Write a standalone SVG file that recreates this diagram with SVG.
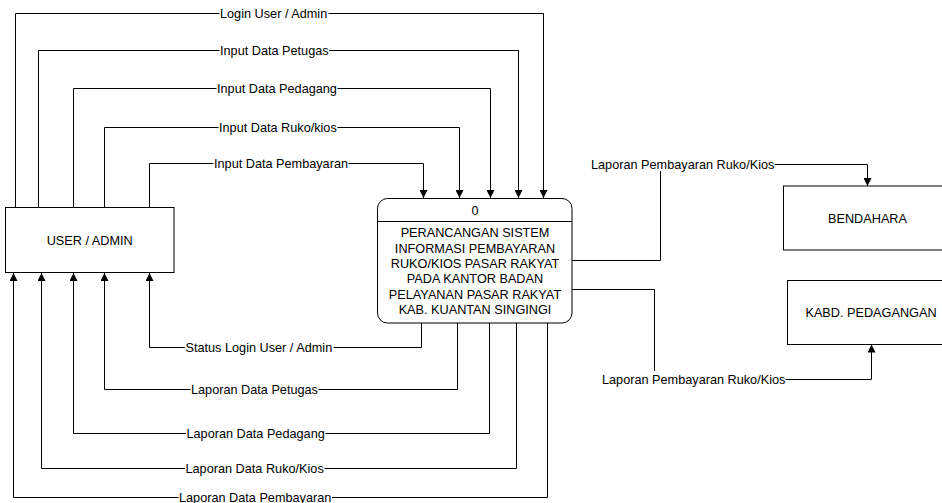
<svg xmlns="http://www.w3.org/2000/svg" width="942" height="503" viewBox="0 0 942 503">
<style>
text{font-family:"Liberation Sans",Arial,sans-serif;font-size:12.7px;fill:#000}
.c{fill:none;stroke:#000;stroke-width:1}
.box{fill:#fff;stroke:#000;stroke-width:1}
.m{text-anchor:middle}
</style>
<defs>
<marker id="ah" viewBox="0 0 10 10" refX="10" refY="5" markerWidth="8" markerHeight="8" markerUnits="userSpaceOnUse" orient="auto">
<path d="M0,0 L10,5 L0,10 z" fill="#000"/>
</marker>
</defs>
<rect width="942" height="503" fill="#fff"/>
<g id="connectors">
<!-- inputs -->
<path class="c" d="M15.5,207 V13.5 H219.5"/>
<path class="c" d="M328.5,13.5 H543.5 V198" marker-end="url(#ah)"/>
<path class="c" d="M38.5,207 V50.5 H219.5"/>
<path class="c" d="M329,50.5 H518.5 V198" marker-end="url(#ah)"/>
<path class="c" d="M73.5,207 V88.5 H216.5"/>
<path class="c" d="M337.5,88.5 H490.5 V198" marker-end="url(#ah)"/>
<path class="c" d="M104.5,207 V127.5 H218.5"/>
<path class="c" d="M337.5,127.5 H459.5 V198" marker-end="url(#ah)"/>
<path class="c" d="M149.5,207 V163.5 H213.5"/>
<path class="c" d="M348.5,163.5 H423.5 V198" marker-end="url(#ah)"/>
<!-- outputs to user -->
<path class="c" d="M421.5,323 V347.5 H333.5"/>
<path class="c" d="M185,347.5 H149.5 V273" marker-end="url(#ah)"/>
<path class="c" d="M457.5,323 V389.5 H318.5"/>
<path class="c" d="M190.5,389.5 H104.5 V273" marker-end="url(#ah)"/>
<path class="c" d="M489.5,323 V433.5 H325.5"/>
<path class="c" d="M186,433.5 H73.5 V273" marker-end="url(#ah)"/>
<path class="c" d="M516.5,323 V468.5 H324.5"/>
<path class="c" d="M185,468.5 H41.5 V273" marker-end="url(#ah)"/>
<path class="c" d="M547.5,323 V497.5 H332"/>
<path class="c" d="M178.5,497.5 H13.5 V273" marker-end="url(#ah)"/>
<!-- to bendahara -->
<path class="c" d="M572,260.5 H660.5 V171"/>
<path class="c" d="M774.5,164.5 H867.5 V186" marker-end="url(#ah)"/>
<!-- to kabd -->
<path class="c" d="M572,289.5 H654.5 V371"/>
<path class="c" d="M785.5,379.5 H871.5 V344.5" marker-end="url(#ah)"/>
</g>
<g id="labels">
<text x="220" y="18">Login User / Admin</text>
<text x="220" y="55">Input Data Petugas</text>
<text x="217" y="93">Input Data Pedagang</text>
<text x="219" y="132">Input Data Ruko/kios</text>
<text x="214" y="168">Input Data Pembayaran</text>
<text x="185.5" y="352">Status Login User / Admin</text>
<text x="191" y="394">Laporan Data Petugas</text>
<text x="186.5" y="438">Laporan Data Pedagang</text>
<text x="185.5" y="473">Laporan Data Ruko/Kios</text>
<text x="179" y="502">Laporan Data Pembayaran</text>
<text x="591" y="169">Laporan Pembayaran Ruko/Kios</text>
<text x="602" y="384">Laporan Pembayaran Ruko/Kios</text>
</g>
<g id="user-admin">
<rect class="box" x="5.5" y="207.5" width="168.5" height="65"/>
<text class="m" x="89.7" y="244.5">USER / ADMIN</text>
</g>
<g id="process-0">
<rect class="box" x="377.5" y="198.5" width="194.5" height="124.5" rx="10" ry="10"/>
<line class="c" x1="377.5" y1="221.5" x2="572" y2="221.5"/>
<text class="m" x="475" y="214.5">0</text>
<text class="m" x="475" y="237">PERANCANGAN SISTEM</text>
<text class="m" x="475" y="252.5">INFORMASI PEMBAYARAN</text>
<text class="m" x="475" y="268">RUKO/KIOS PASAR RAKYAT</text>
<text class="m" x="475" y="283">PADA KANTOR BADAN</text>
<text class="m" x="475" y="298.5">PELAYANAN PASAR RAKYAT</text>
<text class="m" x="475" y="314">KAB. KUANTAN SINGINGI</text>
</g>
<g id="bendahara">
<rect class="box" x="783.5" y="186" width="170" height="64"/>
<text class="m" x="867.5" y="222.5">BENDAHARA</text>
</g>
<g id="kabd-pedagangan">
<rect class="box" x="787.5" y="280.5" width="168" height="64"/>
<text class="m" x="871" y="316.5">KABD. PEDAGANGAN</text>
</g>
</svg>
